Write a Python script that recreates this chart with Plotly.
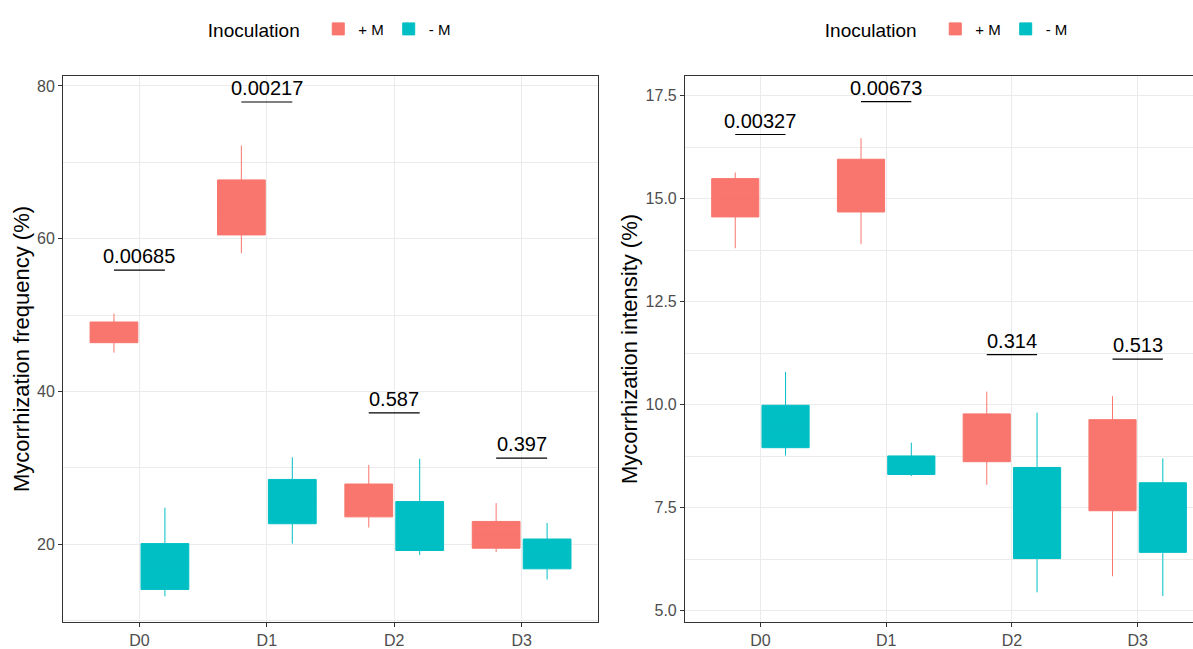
import plotly.graph_objects as go

# --- data ---
doses = ['D0', 'D1', 'D2', 'D3']
groups = ['+ M', '- M']
colors = {'+ M': '#F8766D', '- M': '#00BFC4'}

# Mycorrhization frequency (%)
freq = {
    '+ M': dict(lo=[45.1, 58.1, 22.2, 19.0], q1=[46.4, 60.5, 23.6, 19.5],
                med=[47.8, 64.0, 25.8, 21.2], q3=[49.1, 67.7, 27.9, 23.0],
                hi=[50.2, 72.2, 30.4, 25.4]),
    '- M': dict(lo=[13.2, 20.1, 18.6, 15.4], q1=[14.1, 22.7, 19.2, 16.8],
                med=[17.0, 25.6, 22.4, 18.7], q3=[20.1, 28.5, 25.6, 20.7],
                hi=[24.8, 31.4, 31.2, 22.8]),
}
freq_pvals = ['0.00685', '0.00217', '0.587', '0.397']
freq_bracket = [55.9, 77.9, 37.2, 31.3]

# Mycorrhization intensity (%)
inten = {
    '+ M': dict(lo=[13.80, 13.90, 8.06, 5.84], q1=[14.56, 14.68, 8.62, 7.43],
                med=[15.0, 15.3, 9.2, 8.5], q3=[15.49, 15.96, 9.78, 9.64],
                hi=[15.64, 16.47, 10.32, 10.21]),
    '- M': dict(lo=[8.77, 8.27, 5.45, 5.36], q1=[8.96, 8.31, 6.27, 6.42],
                med=[9.5, 8.5, 7.4, 7.3], q3=[9.99, 8.76, 8.48, 8.11],
                hi=[10.80, 9.08, 9.81, 8.70]),
}
inten_pvals = ['0.00327', '0.00673', '0.314', '0.513']
inten_bracket = [16.56, 17.36, 11.22, 11.11]

FONT = 'Liberation Sans, Arial, sans-serif'
GRID = '#EBEBEB'
FRAME = '#333333'

fig = go.Figure()

panels = [
    (freq, freq_pvals, freq_bracket, 'x', 'y', 'legend'),
    (inten, inten_pvals, inten_bracket, 'x2', 'y2', 'legend2'),
]

for stats, pvals, brackets, xa, ya, leg in panels:
    for g in groups:
        s = stats[g]
        fig.add_trace(go.Box(
            x=doses, q1=s['q1'], median=s['med'], q3=s['q3'],
            lowerfence=s['lo'], upperfence=s['hi'],
            name=g, legend=leg, xaxis=xa, yaxis=ya,
            offsetgroup=g, alignmentgroup=xa,
            fillcolor=colors[g], line=dict(color=colors[g], width=1),
            whiskerwidth=0, boxpoints=False,
        ))
    # p-value brackets
    for i, (p, b) in enumerate(zip(pvals, brackets)):
        fig.add_shape(type='line', xref=xa, yref=ya, x0=i - 0.2, x1=i + 0.2,
                      y0=b, y1=b, line=dict(color='black', width=1.2))
        fig.add_annotation(x=doses[i], y=b, xref=xa, yref=ya, text=p,
                           showarrow=False, yanchor='bottom', yshift=1,
                           font=dict(size=20, color='black', family=FONT))

axcommon = dict(showgrid=True, gridcolor=GRID, gridwidth=1, showline=True,
                linecolor=FRAME, linewidth=1, ticks='outside', ticklen=4,
                tickcolor=FRAME, tickfont=dict(size=16, color='#4D4D4D'),
                zeroline=False)

legend_common = dict(orientation='h', y=1.084, xanchor='center', yanchor='middle',
                     title=dict(text='Inoculation  ', side='left', font=dict(size=19)),
                     font=dict(size=15), bgcolor='rgba(0,0,0,0)')

fig.update_layout(
    width=1193, height=649,
    margin=dict(l=63, r=0, t=76, b=27),
    paper_bgcolor='white', plot_bgcolor='white',
    font=dict(family=FONT, color='black'),
    boxmode='group', boxgap=0.2, boxgroupgap=0.0625,
    xaxis=dict(axcommon, domain=[0, 0.4735], range=[-0.6, 3.6], mirror=True),
    yaxis=dict(axcommon, range=[9.84, 81.3], dtick=20, mirror=True,
               minor=dict(dtick=10, showgrid=True, gridcolor=GRID, gridwidth=0.6),
               title=dict(text='Mycorrhization frequency (%)', standoff=1,
                          font=dict(size=22, color='black'))),
    xaxis2=dict(axcommon, domain=[0.5504, 1.0], range=[-0.6, 3.44], mirror=True),
    yaxis2=dict(axcommon, range=[4.73, 17.98], dtick=2.5, tick0=5, tickformat='.1f',
                anchor='x2',
                minor=dict(dtick=1.25, showgrid=True, gridcolor=GRID, gridwidth=0.6),
                title=dict(text='Mycorrhization intensity (%)', standoff=1,
                           font=dict(size=22, color='black'))),
    legend=dict(legend_common, x=0.237),
    legend2=dict(legend_common, x=0.783),
    showlegend=True,
)

fig.write_html('out.html', config={'displayModeBar': False},
               post_script="document.body.style.margin='0';")
